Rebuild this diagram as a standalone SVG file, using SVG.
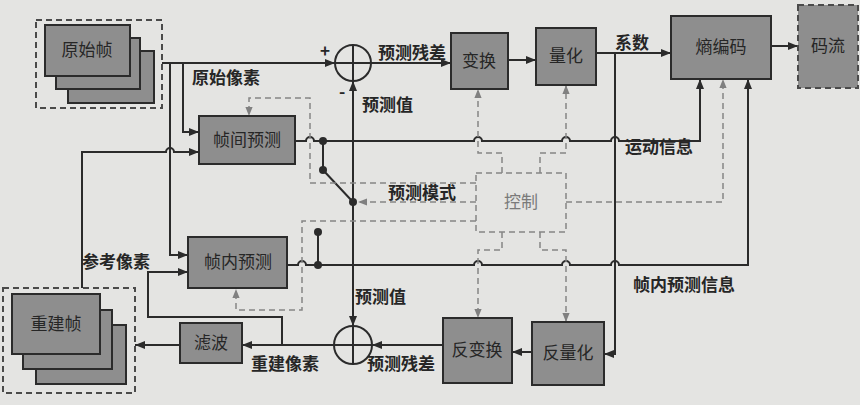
<svg xmlns="http://www.w3.org/2000/svg" width="860" height="405" viewBox="0 0 860 405">
<defs>
<marker id="arr" viewBox="0 0 10 8" refX="10" refY="4" markerWidth="10" markerHeight="8" markerUnits="userSpaceOnUse" orient="auto">
<path d="M0,0 L10,4 L0,8 Z" fill="#2b2b2b"/>
</marker>
<marker id="garr" viewBox="0 0 10 8" refX="10" refY="4" markerWidth="9" markerHeight="8" markerUnits="userSpaceOnUse" orient="auto">
<path d="M0,0 L10,4 L0,8 Z" fill="#808080"/>
</marker>
<style>
.bg{fill:#e4e4e2}
.box{fill:#8e8e8e;stroke:#2b2b2b;stroke-width:2}
.dbox{fill:none;stroke:#4a4a4a;stroke-width:2;stroke-dasharray:6 4}
.dgbox{fill:#8e8e8e;stroke:#4a4a4a;stroke-width:2;stroke-dasharray:6 4}
.cbox{fill:none;stroke:#858585;stroke-width:1.5;stroke-dasharray:6 4}
.ln{fill:none;stroke:#2b2b2b;stroke-width:2}
.dl{fill:none;stroke:#858585;stroke-width:1.5;stroke-dasharray:6 4}
.dot{fill:#2b2b2b}
.t{font-family:"Noto Sans CJK SC","Noto Sans",sans-serif;font-size:17px;fill:#262626;text-anchor:middle}
.lb{font-family:"Noto Sans CJK SC","Noto Sans",sans-serif;font-size:17px;font-weight:bold;fill:#262626}
.ct{font-family:"Noto Sans CJK SC","Noto Sans",sans-serif;font-size:17px;fill:#7a7a7a;text-anchor:middle}
</style>
</defs>
<rect class="bg" x="0" y="0" width="860" height="405"/>

<g id="connectors">
<!-- forward path -->
<path class="ln" d="M162,63 H335" marker-end="url(#arr)"/>
<path class="ln" d="M371,63 H451" marker-end="url(#arr)"/>
<path class="ln" d="M508,60 H536" marker-end="url(#arr)"/>
<path class="ln" d="M596,53 H671" marker-end="url(#arr)"/>
<path class="ln" d="M771,46 H798" marker-end="url(#arr)"/>
<path class="ln" d="M615,53 V354 H604" marker-end="url(#arr)"/>
<path class="ln" d="M532,352 H512" marker-end="url(#arr)"/>
<path class="ln" d="M443,345 H372" marker-end="url(#arr)"/>
<path class="ln" d="M334,345 H242" marker-end="url(#arr)"/>
<path class="ln" d="M282,345 V317 H148 V272 H188" marker-end="url(#arr)"/>
<path class="ln" d="M180,345 H135" marker-end="url(#arr)"/>
<!-- original pixels -->
<path class="ln" d="M183,63 V132 H199" marker-end="url(#arr)"/>
<path class="ln" d="M170,63 V255 H188" marker-end="url(#arr)"/>
<!-- reference pixels -->
<path class="ln" d="M82,288 V152 H166 a4,4 0 0 1 8,0 H199" marker-end="url(#arr)"/>
<!-- prediction value -->
<path class="ln" d="M353,202 V81" marker-end="url(#arr)"/>
<path class="ln" d="M353,202 V326" marker-end="url(#arr)"/>
<!-- inter output / motion info -->
<path class="ln" d="M295,141 H306 a4,4 0 0 1 8,0 H474 a4,4 0 0 1 8,0 H562 a4,4 0 0 1 8,0 H611 a4,4 0 0 1 8,0 H700 V79" marker-end="url(#arr)"/>
<!-- intra output / intra info -->
<path class="ln" d="M287,265 H298 a4,4 0 0 1 8,0 H474 a4,4 0 0 1 8,0 H562 a4,4 0 0 1 8,0 H611 a4,4 0 0 1 8,0 H748 V79" marker-end="url(#arr)"/>
<!-- switch -->
<path class="ln" d="M323,141 V170 L353,202"/>
<path class="ln" d="M318,232 V265"/>
<circle class="dot" cx="323" cy="141" r="4"/>
<circle class="dot" cx="323" cy="170" r="4"/>
<circle class="dot" cx="353" cy="202" r="4"/>
<circle class="dot" cx="318" cy="232" r="4"/>
<circle class="dot" cx="318" cy="265" r="4"/>
<!-- control (dashed) -->
<path class="dl" d="M476,183 H310 V98 H249 V116" marker-end="url(#garr)"/>
<path class="dl" d="M476,221 H302 V310 H236 V289" marker-end="url(#garr)"/>
<path class="dl" d="M502,173 V153 H478 V89" marker-end="url(#garr)"/>
<path class="dl" d="M540,173 V153 H566 V85" marker-end="url(#garr)"/>
<path class="dl" d="M502,232 V250 H478 V318" marker-end="url(#garr)"/>
<path class="dl" d="M540,232 V250 H566 V322" marker-end="url(#garr)"/>
<path class="dl" d="M566,202 H723 V79" marker-end="url(#garr)"/>
<path class="dl" d="M476,202 H358" marker-end="url(#garr)"/>
</g>

<g id="sum-top">
<circle cx="353" cy="63" r="18" fill="none" stroke="#2b2b2b" stroke-width="2"/>
<path class="ln" d="M335,63 H371 M353,45 V81"/>
</g>
<g id="sum-bottom">
<circle cx="353" cy="345" r="19" fill="none" stroke="#2b2b2b" stroke-width="2"/>
<path class="ln" d="M334,345 H372 M353,326 V364"/>
</g>

<g id="yuanshizhen">
<rect class="dbox" x="36" y="20" width="126" height="88"/>
<rect class="box" x="68" y="51" width="86" height="52"/>
<rect class="box" x="56" y="38" width="84" height="51"/>
<rect class="box" x="45" y="25" width="85" height="51"/>
<text class="t" x="87" y="56">原始帧</text>
</g>
<g id="zhenjian">
<rect class="box" x="199" y="116" width="96" height="48"/>
<text class="t" x="247" y="146">帧间预测</text>
</g>
<g id="zhennei">
<rect class="box" x="188" y="237" width="99" height="51"/>
<text class="t" x="238" y="268">帧内预测</text>
</g>
<g id="bianhuan">
<rect class="box" x="451" y="33" width="57" height="56"/>
<text class="t" x="479" y="67">变换</text>
</g>
<g id="lianghua">
<rect class="box" x="536" y="28" width="60" height="57"/>
<text class="t" x="566" y="62">量化</text>
</g>
<g id="shangbianma">
<rect class="box" x="671" y="16" width="100" height="63"/>
<text class="t" x="721" y="53">熵编码</text>
</g>
<g id="maliu">
<rect class="dgbox" x="798" y="5" width="60" height="83"/>
<text class="t" x="828" y="52">码流</text>
</g>
<g id="kongzhi">
<rect class="cbox" x="476" y="173" width="90" height="59"/>
<text class="ct" x="521" y="208">控制</text>
</g>
<g id="fanlianghua">
<rect class="box" x="532" y="322" width="72" height="63"/>
<text class="t" x="568" y="359">反量化</text>
</g>
<g id="fanbianhuan">
<rect class="box" x="443" y="318" width="69" height="65"/>
<text class="t" x="477" y="356">反变换</text>
</g>
<g id="lvbo">
<rect class="box" x="180" y="323" width="62" height="40"/>
<text class="t" x="211" y="349">滤波</text>
</g>
<g id="chongjianzhen">
<rect class="dbox" x="3" y="288" width="132" height="105"/>
<rect class="box" x="36" y="325" width="90" height="59"/>
<rect class="box" x="23" y="310" width="89" height="59"/>
<rect class="box" x="12" y="294" width="88" height="60"/>
<text class="t" x="56" y="330">重建帧</text>
</g>

<g id="labels">
<text class="lb" x="320" y="57">+</text>
<text class="lb" x="339" y="98">-</text>
<text class="lb" x="192" y="84">原始像素</text>
<text class="lb" x="378" y="59">预测残差</text>
<text class="lb" x="362" y="111">预测值</text>
<text class="lb" x="615" y="49">系数</text>
<text class="lb" x="625" y="153">运动信息</text>
<text class="lb" x="388" y="199">预测模式</text>
<text class="lb" x="82" y="268">参考像素</text>
<text class="lb" x="633" y="291">帧内预测信息</text>
<text class="lb" x="355" y="303">预测值</text>
<text class="lb" x="251" y="370">重建像素</text>
<text class="lb" x="367" y="370">预测残差</text>
</g>
</svg>
